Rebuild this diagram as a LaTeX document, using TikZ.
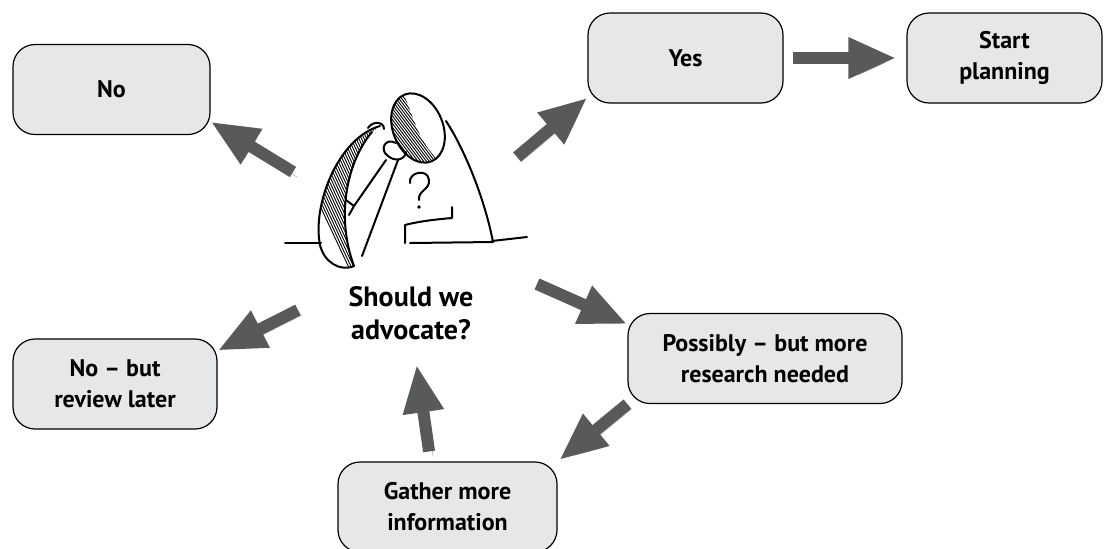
\documentclass[tikz,border=0pt]{standalone}
\usepackage{fontspec}
\setmainfont{PT Sans}
\usetikzlibrary{arrows.meta}

\definecolor{boxgray}{HTML}{E6E7E8}
\definecolor{arrowgray}{HTML}{58595B}
\definecolor{shadowgray}{HTML}{BCBEC0}

\tikzset{
  choice/.style={draw, line width=0.6pt, fill=boxgray, rounded corners=11pt,
    minimum height=45pt, align=center,
    font=\bfseries\fontsize{12}{15.5}\selectfont},
  fat arrow/.style={line width=6pt, draw=arrowgray,
    -{Triangle[width=19pt,length=24pt]},
    preaction={draw=shadowgray, transform canvas={xshift=2pt,yshift=-2.5pt}}},
  sketch/.style={line width=1pt, line cap=round, line join=round},
  hatch/.style={line width=0.45pt},
}

\begin{document}
\begin{tikzpicture}[x=0.5pt,y=-0.5pt]
\useasboundingbox (0,0) rectangle (1109,548);

% the answers
\node[choice, minimum width=98.5pt] (no) at (111.5,89.5) {No};
\node[choice, minimum width=97.5pt] (yes) at (685.5,58) {Yes};
\node[choice, minimum width=97.5pt] (plan) at (1004.5,58) {Start\\planning};
\node[choice, minimum width=102pt] (later) at (115,384) {No -- but\\review later};
\node[choice, minimum width=137pt] (maybe) at (765,358.5) {Possibly -- but more\\research needed};
\node[choice, minimum width=109.5pt] (gather) at (447.5,507) {Gather more\\information};

% the question
\node[align=center, font=\bfseries\fontsize{14}{16.5}\selectfont] (ask) at (411,313) {Should we\\advocate?};

% man thinking
\begin{scope}[sketch]
\draw (285,243) -- (321,243);
\draw (492,241) -- (527,237);
\draw[rotate around={22:(418,128)}] (418,128) ellipse (25 and 36);
\begin{scope}
\clip[rotate around={22:(418,128)}] (418,128) ellipse (25 and 36);
\clip (380,85) -- (402,90) .. controls (412,110) and (416,140) .. (440,162) -- (380,170) -- cycle;
\foreach \k in {0,...,40}
  \draw[hatch] (330+\k*2.8,85) -- ++(60,80);
\end{scope}
\draw (446,121) .. controls (465,150) and (485,200) .. (493,242) -- (410,243);
\draw (380,126) .. controls (338,138) and (312,205) .. (320,245) .. controls (324,262) and (340,272) .. (354,266);
\draw (372,132) .. controls (348,160) and (335,215) .. (354,266);
\draw (368,128) .. controls (372,121) and (384,121) .. (384,129);
\begin{scope}
\clip (380,126) .. controls (338,138) and (312,205) .. (320,245) .. controls (324,262) and (340,272) .. (354,266) .. controls (335,215) and (348,160) .. (372,132) -- cycle;
\foreach \k in {0,...,48}
  \draw[hatch] (280+\k*2.6,120) -- ++(70,150);
\end{scope}
\draw (396,143) .. controls (385,137) and (379,150) .. (388,156) .. controls (395,162) and (405,160) .. (406,152);
\draw (398,160) -- (362,256);
\draw (386,160) -- (354,206);
\draw (354,206) -- (346,200);
\draw (354,206) -- (349,215);
\draw (405,243) -- (405,225) .. controls (420,221) and (440,219) .. (452,218) -- (452,207);
\draw (410,183) .. controls (408,172) and (428,168) .. (429,180) .. controls (430,190) and (418,190) .. (419,200);
\fill (419,207) circle (1.8);
\end{scope}

% arrows out of the question
\coordinate (fromNo) at (293,172);
\coordinate (fromYes) at (517,157);
\coordinate (fromLater) at (298,310);
\coordinate (fromMaybe) at (537,284);

\draw[fat arrow] (fromNo) -- (no.-18);
\draw[fat arrow] (fromYes) -- (yes.202);
\draw[fat arrow, shorten <=4.5pt, shorten >=5pt] (yes) -- (plan);
\draw[fat arrow] (fromLater) -- (later.18);
\draw[fat arrow] (fromMaybe) -- (maybe.166);
\draw[fat arrow, shorten >=1pt] (maybe.south west) -- (gather.north east);
\draw[fat arrow, shorten <=5pt, shorten >=9pt] ([xshift=-8.5pt]gather.north) -- ([xshift=1.5pt]ask.south);

\end{tikzpicture}
\end{document}
